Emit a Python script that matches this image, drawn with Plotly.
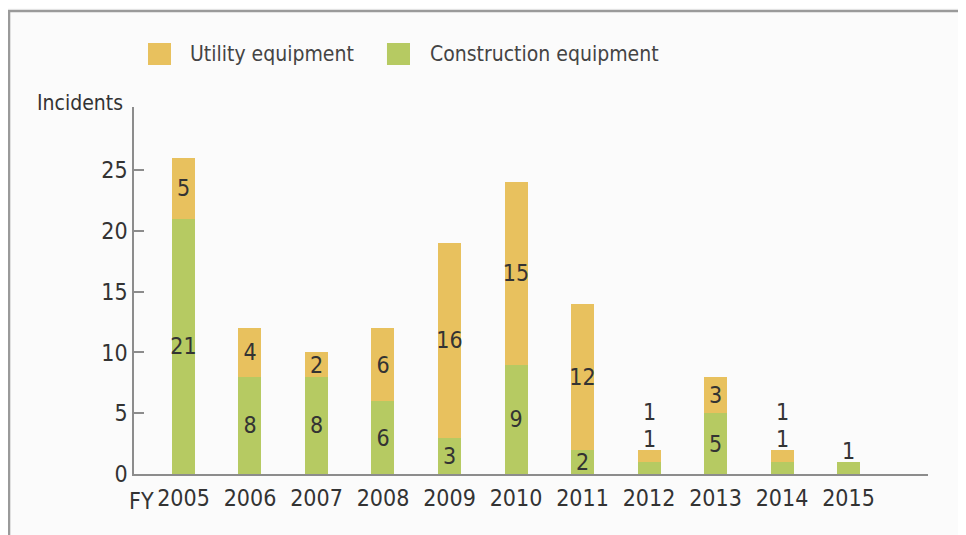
import plotly.graph_objects as go

years = ["2005", "2006", "2007", "2008", "2009", "2010", "2011", "2012", "2013", "2014", "2015"]
construction = [21, 8, 8, 6, 3, 9, 2, 1, 5, 1, 1]
utility = [5, 4, 2, 6, 16, 15, 12, 1, 3, 1, 0]
y_ticks = [0, 5, 10, 15, 20, 25]

ORANGE = "#E8C15E"
GREEN = "#B6CA62"
TEXT = "#333333"
FONT = "DejaVu Sans Condensed, DejaVu Sans, sans-serif"

xs = list(range(len(years)))

def inside_text(vals):
    return [str(v) if v >= 2 else "" for v in vals]

fig = go.Figure()
for vals, name, color in ((construction, "Construction equipment", GREEN),
                          (utility, "Utility equipment", ORANGE)):
    fig.add_trace(go.Bar(
        x=xs, y=vals, name=name, marker_color=color, marker_line_width=0,
        text=inside_text(vals), textposition="inside", insidetextanchor="middle",
        textangle=0, constraintext="none",
        textfont=dict(color=TEXT, size=23, family=FONT),
        showlegend=False, cliponaxis=False))

annotations = []
# labels for 1-unit segments sit above the bar
for i in xs:
    total = construction[i] + utility[i]
    smalls = [v for v in (construction[i], utility[i]) if v == 1]
    for k, v in enumerate(smalls):
        annotations.append(dict(
            x=i, y=total, xref="x", yref="y", text=str(v), showarrow=False,
            yanchor="middle", yshift=11 + 27 * k,
            font=dict(color=TEXT, size=23, family=FONT)))

# FY prefix and axis title
annotations.append(dict(x=0.01, y=0, xref="paper", yref="paper", text="FY", showarrow=False,
                        yanchor="middle", xanchor="center", yshift=-27,
                        font=dict(color=TEXT, size=23, family=FONT)))
annotations.append(dict(x=-0.0113, y=1.011, xref="paper", yref="paper", text="Incidents",
                        showarrow=False, xanchor="right", yanchor="middle",
                        font=dict(color=TEXT, size=21, family=FONT)))
# legend labels
annotations.append(dict(x=0.068, y=1.1444, xref="paper", yref="paper", text="Utility equipment",
                        showarrow=False, xanchor="left", yanchor="middle",
                        font=dict(color="#444444", size=21, family=FONT)))
annotations.append(dict(x=0.3703, y=1.1444, xref="paper", yref="paper", text="Construction equipment",
                        showarrow=False, xanchor="left", yanchor="middle",
                        font=dict(color="#444444", size=21, family=FONT)))

shapes = [
    dict(type="rect", xref="paper", yref="paper", x0=0.0176, x1=0.0466, y0=1.1144, y1=1.1744,
         fillcolor=ORANGE, line_width=0),
    dict(type="rect", xref="paper", yref="paper", x0=0.3186, x1=0.3476, y0=1.1144, y1=1.1744,
         fillcolor=GREEN, line_width=0),
    # frame
    dict(type="path", xref="paper", yref="paper",
         path="M -0.1574,-0.2 L -0.1574,1.2616 L 1.1,1.2616",
         line=dict(color="#9a9a9a", width=2.5)),
]

fig.update_layout(
    barmode="stack",
    bargap=1 - 23 / 66.5,
    width=958, height=527,
    margin=dict(l=126, r=38, t=99, b=61),
    paper_bgcolor="#fbfbfb", plot_bgcolor="#fbfbfb",
    font=dict(family=FONT, color=TEXT),
    annotations=annotations,
    shapes=shapes,
    showlegend=False,
    xaxis=dict(range=[-0.744, 11.195], tickvals=xs, ticktext=years, showgrid=False,
               zeroline=False, showline=True, linecolor="#8c8c8c", linewidth=1.5,
               ticks="", ticklabelstandoff=3,
               tickfont=dict(size=23, color=TEXT, family=FONT)),
    yaxis=dict(range=[0, 30.2], tickvals=y_ticks, showgrid=False, zeroline=False,
               showline=True, linecolor="#8c8c8c", linewidth=1.5,
               ticks="inside", ticklen=10, tickcolor="#8c8c8c", tickwidth=1.5,
               tickfont=dict(size=23, color=TEXT, family=FONT)),
)

fig.write_html("out.html")
